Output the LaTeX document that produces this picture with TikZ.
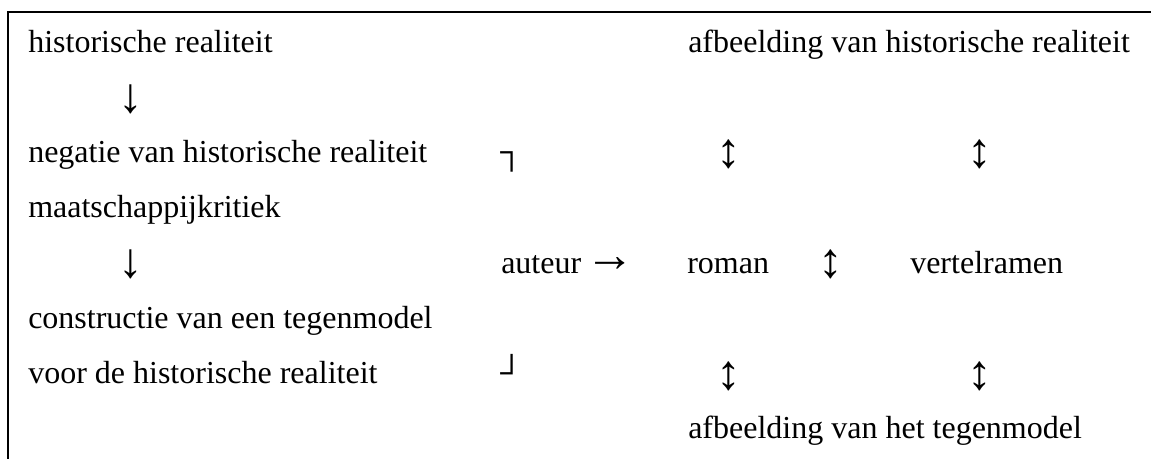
\documentclass[tikz,border=0pt]{standalone}
\usepackage{fontspec}
\setmainfont{Liberation Serif}
\begin{document}
\begin{tikzpicture}[x=0.75pt,y=-0.75pt,
  txt/.style={anchor=base west,inner sep=0pt,font=\fontsize{24}{28}\selectfont},
  arr/.style={anchor=center,inner sep=0pt,font=\fontsize{37}{40}\selectfont},
  frame/.style={line width=1.5pt,line cap=rect}]
\useasboundingbox (0,0) rectangle (1151,459);
\draw[frame] (8.3,470) -- (8.3,12) -- (1160,12);
% left column
\node[txt] (hr)  at (28,53)  {historische realiteit};
\node[arr] (d1)  at (131,99) {↓};
\node[txt] (neg) at (28,163) {negatie van historische realiteit};
\node[txt] (mk)  at (28,218) {maatschappijkritiek};
\node[arr] (d2)  at (131,264) {↓};
\node[txt] (con) at (28,328) {constructie van een tegenmodel};
\node[txt] (voor) at (28,383) {voor de historische realiteit};
% brackets
\node[txt] (br1) at (500,163) {┐};
\node[txt] (br2) at (500,383) {┘};
% middle / right
\node[txt] (aut) at (501,273) {auteur};
\node[arr] (ar)  at (610.5,265) {→};
\node[txt] (afh) at (688,53) {afbeelding van historische realiteit};
\node[arr] (u1) at (729,154) {↕};
\node[arr] (u2) at (980,154) {↕};
\node[txt] (rom) at (687,273) {roman};
\node[arr] (u3) at (831,264) {↕};
\node[txt] (ver) at (910,273) {vertelramen};
\node[arr] (u4) at (729,376) {↕};
\node[arr] (u5) at (980,376) {↕};
\node[txt] (aft) at (688,438) {afbeelding van het tegenmodel};
\end{tikzpicture}
\end{document}
